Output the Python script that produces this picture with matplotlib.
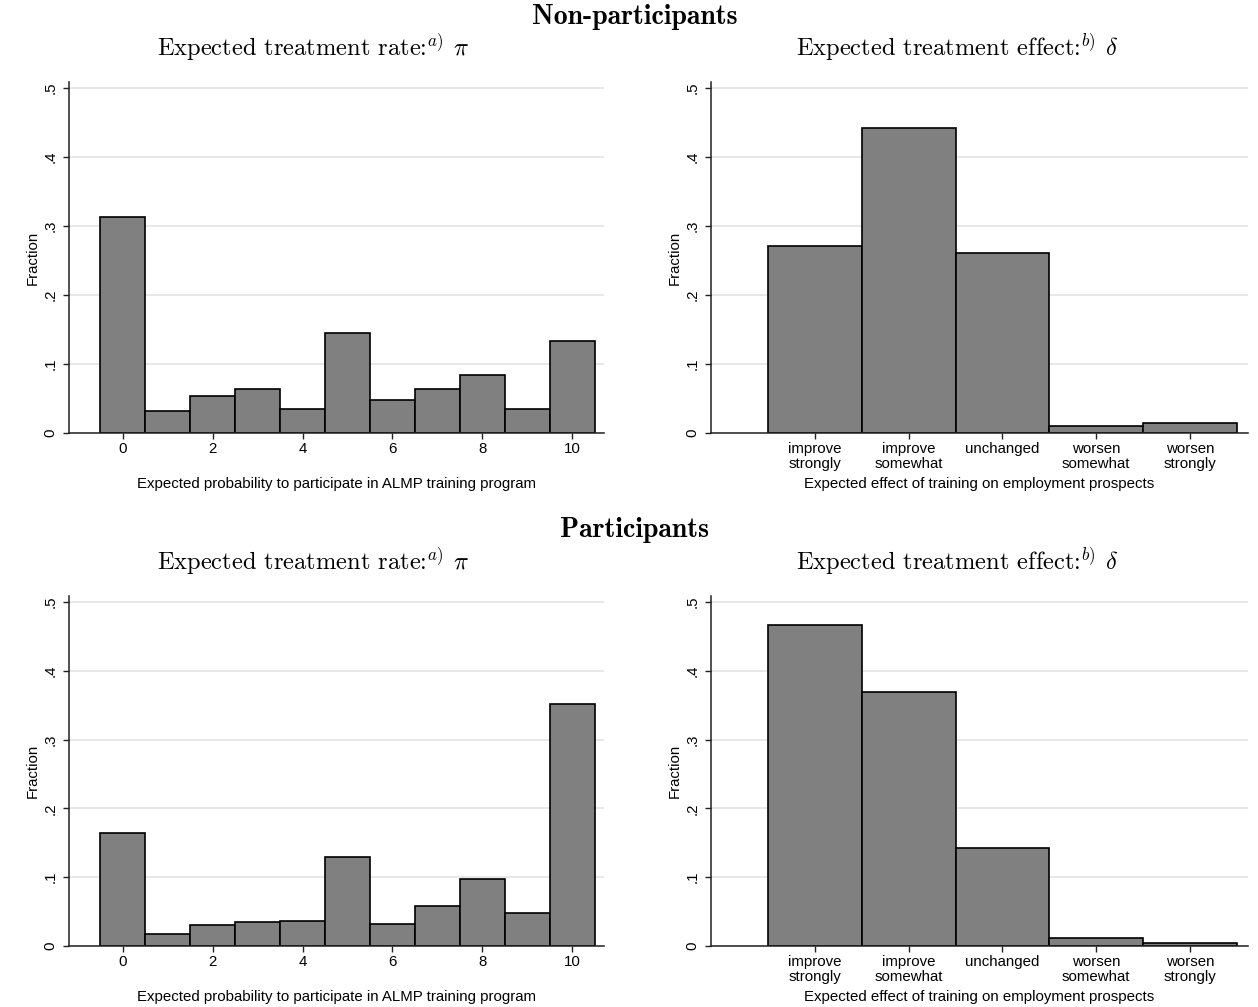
import os
import numpy as np
import matplotlib
matplotlib.use('Agg')
import matplotlib.pyplot as plt
from matplotlib.font_manager import FontProperties

plt.rcParams['font.family'] = ['Liberation Sans', 'DejaVu Sans']
plt.rcParams['mathtext.fontset'] = 'cm'

ttf_dir = os.path.join(matplotlib.get_data_path(), 'fonts', 'ttf')
cm_reg = FontProperties(fname=os.path.join(ttf_dir, 'cmr10.ttf'), size=17.6)
cm_bold = FontProperties(fname=os.path.join(ttf_dir, 'cmb10.ttf'), size=20)

# Data
prob_bins = list(range(11))
nonpart_prob = [0.313, 0.032, 0.054, 0.064, 0.035, 0.145, 0.048, 0.064, 0.084, 0.035, 0.133]
part_prob = [0.164, 0.017, 0.031, 0.035, 0.036, 0.129, 0.032, 0.058, 0.097, 0.048, 0.352]

effect_labels = ['improve\nstrongly', 'improve\nsomewhat', 'unchanged', 'worsen\nsomewhat', 'worsen\nstrongly']
nonpart_effect = [0.271, 0.442, 0.261, 0.010, 0.0145]
part_effect = [0.467, 0.369, 0.142, 0.0116, 0.0044]

W, H = 1258, 1007
FS = 10.8
fig = plt.figure(figsize=(W / 100, H / 100), dpi=100)


def px_axes(left, right, top, bottom):
    return fig.add_axes([left / W, 1 - bottom / H, (right - left) / W, (bottom - top) / H])


def style_axes(ax):
    for s in ['top', 'right']:
        ax.spines[s].set_visible(False)
    for s in ['left', 'bottom']:
        ax.spines[s].set_color('#222222')
        ax.spines[s].set_linewidth(1.1)
    ax.set_ylim(0, 0.509)
    ax.set_yticks([0, 0.1, 0.2, 0.3, 0.4, 0.5])
    ax.set_yticklabels(['0', '.1', '.2', '.3', '.4', '.5'], rotation=90, va='center', ha='center')
    ax.tick_params(axis='both', direction='out', length=4.5, width=1.0, color='#222222', labelsize=FS)
    ax.tick_params(axis='y', pad=9)
    ax.tick_params(axis='x', pad=2)
    ax.yaxis.grid(True, color='#e6e6e6', linewidth=1.3)
    ax.set_axisbelow(True)
    ax.set_ylabel('Fraction', fontsize=FS)
    ax.yaxis.set_label_coords(-0.054, 0.5)


def prob_panel(ax, vals):
    style_axes(ax)
    ax.bar(prob_bins, vals, width=1.0, color='#808080', edgecolor='black', linewidth=1.2)
    ax.set_xlim(-1.2, 10.71)
    ax.set_xticks([0, 2, 4, 6, 8, 10])
    ax.set_xlabel('Expected probability to participate in ALMP training program', fontsize=FS, va='top')
    ax.xaxis.set_label_coords(0.5, -0.125)


def effect_panel(ax, vals):
    style_axes(ax)
    pos = np.arange(1, len(effect_labels) + 1)
    ax.bar(pos, vals, width=1.0, color='#808080', edgecolor='black', linewidth=1.2)
    ax.set_xlim(-0.11, 5.62)
    ax.set_xticks(pos)
    ax.set_xticklabels(effect_labels, linespacing=1.1)
    ax.set_xlabel('Expected effect of training on employment prospects', fontsize=FS, va='top')
    ax.xaxis.set_label_coords(0.5, -0.125)


rows = [('Non-participants', nonpart_prob, nonpart_effect, 82, 433, 17, 47),
        ('Participants', part_prob, part_effect, 596, 946, 530, 561)]

for head, pvals, evals, top, bottom, head_y, title_y in rows:
    ax1 = px_axes(69, 604, top, bottom)
    prob_panel(ax1, pvals)
    ax2 = px_axes(711, 1248, top, bottom)
    effect_panel(ax2, evals)
    fig.text(635 / W, 1 - head_y / H, head, fontproperties=cm_bold, ha='center', va='center')
    fig.text(313 / W, 1 - title_y / H, r'Expected treatment rate:$^{a)}$ $\pi$',
             fontproperties=cm_reg, ha='center', va='center')
    fig.text(957 / W, 1 - title_y / H, r'Expected treatment effect:$^{b)}$ $\delta$',
             fontproperties=cm_reg, ha='center', va='center')

fig.savefig('out.png', dpi=100)
